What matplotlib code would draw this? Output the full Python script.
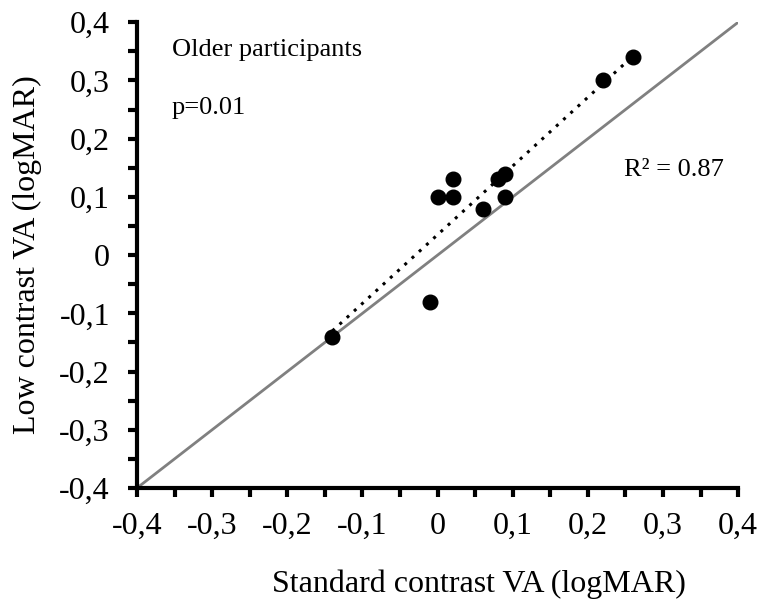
import numpy as np
import matplotlib
matplotlib.use("Agg")
import matplotlib.pyplot as plt
from matplotlib.ticker import MultipleLocator, FuncFormatter

std_va = [-0.14, -0.01, 0.00, 0.02, 0.02, 0.06, 0.08, 0.09, 0.09, 0.22, 0.26]
low_va = [-0.14, -0.08, 0.10, 0.10, 0.13, 0.08, 0.13, 0.14, 0.10, 0.30, 0.34]
title_text = "Older participants"
p_text = "p=0.01"
r2_text = "R² = 0.87"

plt.rcParams['font.family'] = ['Liberation Serif', 'DejaVu Serif']

fig = plt.figure(figsize=(7.61, 6.01), dpi=100)
ax = fig.add_axes([0.180, 0.188, 0.790, 0.775])

ax.plot([-0.4, 0.4], [-0.4, 0.4], color='#808080', lw=2, zorder=1)

x = np.array(std_va); y = np.array(low_va)
m, b = np.polyfit(x, y, 1)
xs = np.array([x.min(), x.max()])
ax.plot(xs, m * xs + b, color='black', lw=2.2, ls=(0, (1, 2.2)), zorder=2)

ax.plot(x, y, 'o', color='black', markersize=10.5, zorder=3)

ax.set_xlim(-0.4, 0.4)
ax.set_ylim(-0.4, 0.4)
for s in ['top', 'right']:
    ax.spines[s].set_visible(False)
for s in ['left', 'bottom']:
    ax.spines[s].set_linewidth(3)

fmt = FuncFormatter(lambda v, p: "0" if abs(v) < 1e-9 else f"{v:.1f}".replace('.', ','))
for axis in (ax.xaxis, ax.yaxis):
    axis.set_major_locator(MultipleLocator(0.1))
    axis.set_minor_locator(MultipleLocator(0.05))
    axis.set_major_formatter(fmt)
ax.tick_params(which='both', direction='out', length=6.5, width=3)
ax.tick_params(axis='x', which='major', labelsize=23, pad=11)
ax.tick_params(axis='y', which='major', labelsize=23, pad=13)

ax.set_xlabel("Standard contrast VA (logMAR)", fontsize=23)
ax.set_ylabel("Low contrast VA (logMAR)", fontsize=23)
ax.xaxis.set_label_coords(0.569, -0.174)
ax.yaxis.set_label_coords(-0.158, 0.5)

ax.text(-0.3535, 0.352, title_text, fontsize=19, va='center', ha='left')
ax.text(-0.3535, 0.252, p_text, fontsize=19, va='center', ha='left')
ax.text(0.248, 0.146, r2_text, fontsize=19, va='center', ha='left')

fig.savefig("out.png", dpi=100)
